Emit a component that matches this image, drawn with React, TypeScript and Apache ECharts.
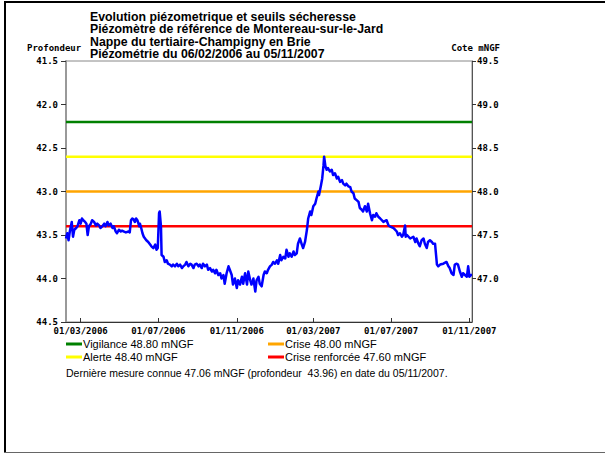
import React, { useEffect, useRef } from "react";
import * as echarts from "echarts";

// Series start: 06/02/2006, end: 05/11/2007
const startDate = [2006, 1, 6]; // year, monthIndex, day
const endDate = [2007, 10, 5];

// Days since 06/02/2006 and depth (m)
const dayOffsets = [
  0, 2, 4, 6, 9, 11, 13, 16, 18, 21, 23, 25, 27, 30, 32, 34, 36, 39, 41, 44, 47, 49, 52, 54, 57, 60, 62, 65, 67, 70,
  73, 75, 78, 80, 83, 86, 88, 91, 94, 98, 100, 102, 104, 106, 108, 110, 112, 115, 116, 118, 120, 122, 126, 129, 132,
  134, 137, 140, 142, 144, 146, 147, 149, 150, 153, 155, 158, 160, 163, 166, 168, 171, 174, 176, 179, 182, 184, 187,
  189, 192, 195, 197, 200, 202, 205, 208, 210, 213, 215, 218, 221, 223, 226, 229, 231, 234, 236, 239, 242, 244, 247,
  249, 252, 255, 257, 260, 262, 265, 268, 270, 273, 276, 278, 281, 284, 286, 289, 291, 294, 297, 299, 302, 304, 307,
  310, 312, 315, 317, 320, 323, 325, 328, 331, 333, 336, 338, 341, 344, 346, 349, 351, 354, 357, 359, 362, 364, 367,
  370, 372, 375, 378, 380, 383, 385, 388, 391, 393, 396, 397, 400, 402, 404, 405, 407, 409, 411, 414, 417, 419, 422,
  425, 427, 430, 433, 435, 438, 440, 443, 446, 448, 451, 453, 456, 459, 461, 464, 466, 469, 472, 474, 477, 480, 482,
  485, 487, 490, 493, 498, 503, 506, 508, 514, 519, 521, 524, 527, 529, 532, 533, 535, 540, 545, 548, 550, 553, 555,
  558, 561, 563, 566, 568, 571, 574, 576, 579, 582, 584, 587, 592, 597, 600, 602, 605, 608, 610, 613, 615, 618, 621,
  623, 626, 629, 631, 633, 635, 637,
];
const depths = [
  43.54, 43.48, 43.56, 43.46, 43.35, 43.52, 43.44, 43.42, 43.4, 43.33, 43.37, 43.31, 43.33, 43.35, 43.37, 43.5, 43.4,
  43.37, 43.33, 43.35, 43.39, 43.37, 43.39, 43.42, 43.4, 43.37, 43.4, 43.35, 43.39, 43.37, 43.42, 43.4, 43.46, 43.48,
  43.44, 43.46, 43.45, 43.46, 43.47, 43.46, 43.47, 43.33, 43.31, 43.32, 43.35, 43.31, 43.33, 43.4, 43.37, 43.42,
  43.48, 43.52, 43.56, 43.58, 43.61, 43.63, 43.65, 43.61, 43.67, 43.65, 43.25, 43.23, 43.4, 43.73, 43.75, 43.81,
  43.79, 43.83, 43.84, 43.86, 43.84, 43.86, 43.83, 43.86, 43.84, 43.88, 43.86, 43.84, 43.81, 43.86, 43.83, 43.84,
  43.88, 43.84, 43.83, 43.86, 43.84, 43.88, 43.83, 43.86, 43.84, 43.9, 43.88, 43.92, 43.9, 43.94, 43.9, 43.96, 43.94,
  44.0, 43.96, 44.06, 43.94, 43.86, 43.9, 43.96, 44.07, 44.0, 44.11, 44.02, 44.07, 43.98, 44.06, 43.94, 44.07, 43.92,
  44.02, 44.07, 44.0, 44.15, 44.02, 43.98, 44.06, 44.09, 43.96, 43.92, 43.94, 43.9, 43.86, 43.84, 43.81, 43.83,
  43.79, 43.83, 43.73, 43.79, 43.75, 43.77, 43.67, 43.75, 43.71, 43.75, 43.69, 43.73, 43.71, 43.6, 43.54, 43.61,
  43.65, 43.58, 43.44, 43.31, 43.23, 43.27, 43.17, 43.14, 43.08, 43.0, 43.04, 42.93, 42.85, 42.7, 42.6, 42.71, 42.75,
  42.73, 42.77, 42.75, 42.81, 42.79, 42.85, 42.83, 42.89, 42.87, 42.91, 42.93, 42.91, 42.94, 42.95, 43.0, 43.02,
  43.08, 43.1, 43.12, 43.19, 43.21, 43.23, 43.17, 43.23, 43.14, 43.25, 43.33, 43.27, 43.29, 43.25, 43.29, 43.31,
  43.35, 43.33, 43.39, 43.4, 43.42, 43.46, 43.5, 43.48, 43.52, 43.5, 43.39, 43.52, 43.5, 43.54, 43.52, 43.58, 43.54,
  43.6, 43.63, 43.56, 43.54, 43.6, 43.65, 43.58, 43.56, 43.58, 43.6, 43.6, 43.84, 43.86, 43.84, 43.83, 43.81, 43.86,
  43.88, 43.94, 43.96, 43.84, 43.83, 43.84, 43.92, 43.98, 43.94, 43.96, 43.98, 43.86, 43.98, 43.96, 43.96,
];

// Threshold levels (mNGF)
const thresholdNames = ["Vigilance", "Alerte", "Crise", "Crise renforcée"];
const thresholdValues = [48.8, 48.4, 48.0, 47.6];
const thresholdColors = ["#008000", "#ffff00", "#ffa500", "#ff0000"];

// X tick dates [year, monthIndex, day]
const xTickDates = [
  [2006, 2, 1],
  [2006, 6, 1],
  [2006, 10, 1],
  [2007, 2, 1],
  [2007, 6, 1],
  [2007, 10, 1],
];

const titleLines = [
  "Evolution piézometrique et seuils sécheresse",
  "Piézomètre de référence de Montereau-sur-le-Jard",
  "Nappe du tertiaire-Champigny en Brie",
  "Piézométrie du 06/02/2006 au 05/11/2007",
];
const footerText = "Dernière mesure connue 47.06 mNGF (profondeur  43.96) en date du 05/11/2007.";

const DAY = 86400000;
const utc = (d: number[]) => Date.UTC(d[0], d[1], d[2]);
const pad = (n: number) => (n < 10 ? "0" + n : "" + n);

export default function App() {
  const ref = useRef<HTMLDivElement>(null);
  useEffect(() => {
    if (!ref.current) return;
    const chart = echarts.init(ref.current, null, { renderer: "svg" });
    const startMs = utc(startDate);
    const endMs = utc(endDate);
    const seriesData = dayOffsets.map((d, i) => [startMs + d * DAY, depths[i]]);
    const ticks = xTickDates.map(utc);
    const mono = "DejaVu Sans Mono";
    const sans = "Liberation Sans, Arial, sans-serif";

    const legendPos = [
      [66, 344],
      [66, 357],
      [268, 344],
      [268, 357],
    ];
    const legendGraphics: any[] = [];
    thresholdNames.forEach((n, i) => {
      const [x, y] = legendPos[i];
      legendGraphics.push({
        type: "line",
        shape: { x1: x, y1: y, x2: x + 16, y2: y },
        style: { stroke: thresholdColors[i], lineWidth: 3 },
      });
      legendGraphics.push({
        type: "text",
        x: x + 17,
        y: y,
        style: {
          text: `${n} ${thresholdValues[i].toFixed(2)} mNGF`,
          font: `11px ${sans}`,
          fill: "#000",
          verticalAlign: "middle",
        },
      });
    });

    const titleGraphics = titleLines.map((t, i) => ({
      type: "text",
      x: 90,
      y: 16.5 + i * 12.6,
      style: {
        text: t,
        font: `bold 12.3px ${sans}`,
        fill: "#000",
        verticalAlign: "middle",
      },
    }));

    const option: any = {
      animation: false,
      backgroundColor: "#fff",
      grid: {
        left: 66,
        right: 133,
        top: 61,
        bottom: 133,
        show: true,
        borderColor: "#888",
        borderWidth: 1,
        containLabel: false,
      },
      xAxis: {
        type: "value",
        min: startMs,
        max: endMs,
        splitLine: { show: false },
        axisLine: { lineStyle: { color: "#333", width: 1 } },
        axisTick: { customValues: ticks, inside: true, length: 4, lineStyle: { color: "#333" } },
        axisLabel: {
          customValues: ticks,
          margin: 4,
          fontFamily: mono,
          fontWeight: "bold",
          fontSize: 9,
          color: "#000",
          formatter: (v: number) => {
            const d = new Date(v);
            return `${pad(d.getUTCDate())}/${pad(d.getUTCMonth() + 1)}/${d.getUTCFullYear()}`;
          },
        },
      },
      yAxis: [
        {
          type: "value",
          position: "left",
          inverse: true,
          min: 41.5,
          max: 44.5,
          interval: 0.5,
          splitLine: { show: false },
          axisLine: { show: true, lineStyle: { color: "#999", width: 2 } },
          axisTick: { show: true, length: 5, lineStyle: { color: "#333" } },
          axisLabel: {
            margin: 8,
            fontFamily: mono,
            fontWeight: "bold",
            fontSize: 9,
            color: "#000",
            formatter: (v: number) => v.toFixed(1),
          },
        },
        {
          type: "value",
          position: "right",
          min: 46.5,
          max: 49.5,
          interval: 0.5,
          splitLine: { show: false },
          axisLine: { show: true, lineStyle: { color: "#555", width: 1 } },
          axisTick: { show: true, length: 4, lineStyle: { color: "#333" } },
          axisLabel: {
            margin: 5,
            showMinLabel: false,
            fontFamily: mono,
            fontWeight: "bold",
            fontSize: 9,
            color: "#000",
            formatter: (v: number) => (v <= 46.5 ? "" : v.toFixed(1)),
          },
        },
      ],
      series: [
        ...thresholdValues.map((v, i) => ({
          name: thresholdNames[i],
          type: "line",
          yAxisIndex: 1,
          symbol: "none",
          z: 2,
          data: [
            [startMs, v],
            [endMs, v],
          ],
          lineStyle: { color: thresholdColors[i], width: 2.5 },
        })),
        {
          name: "Profondeur",
          type: "line",
          yAxisIndex: 0,
          symbol: "none",
          z: 3,
          data: seriesData,
          lineStyle: { color: "#0000ff", width: 2.5, join: "round" },
        },
      ],
      graphic: [
        { type: "line", shape: { x1: 5, y1: 1, x2: 5, y2: 453 }, style: { stroke: "#000", lineWidth: 2 } },
        { type: "line", shape: { x1: 4, y1: 2, x2: 605, y2: 2 }, style: { stroke: "#000", lineWidth: 2 } },
        { type: "line", shape: { x1: 4, y1: 452.5, x2: 605, y2: 452.5 }, style: { stroke: "#666", lineWidth: 1 } },
        ...titleGraphics,
        {
          type: "text",
          x: 27,
          y: 48,
          style: { text: "Profondeur", font: `bold 9px ${mono}`, fill: "#000", verticalAlign: "middle" },
        },
        {
          type: "text",
          x: 500,
          y: 48,
          style: {
            text: "Cote mNGF",
            font: `bold 9px ${mono}`,
            fill: "#000",
            align: "right",
            verticalAlign: "middle",
          },
        },
        ...legendGraphics,
        {
          type: "text",
          x: 66,
          y: 373,
          style: { text: footerText, font: `10.5px ${sans}`, fill: "#000", verticalAlign: "middle" },
        },
      ],
    };
    chart.setOption(option);
    return () => chart.dispose();
  }, []);
  return (
    <div
      ref={ref}
      style={{ position: "absolute", left: 0, top: 0, width: 605, height: 455 }}
    />
  );
}
